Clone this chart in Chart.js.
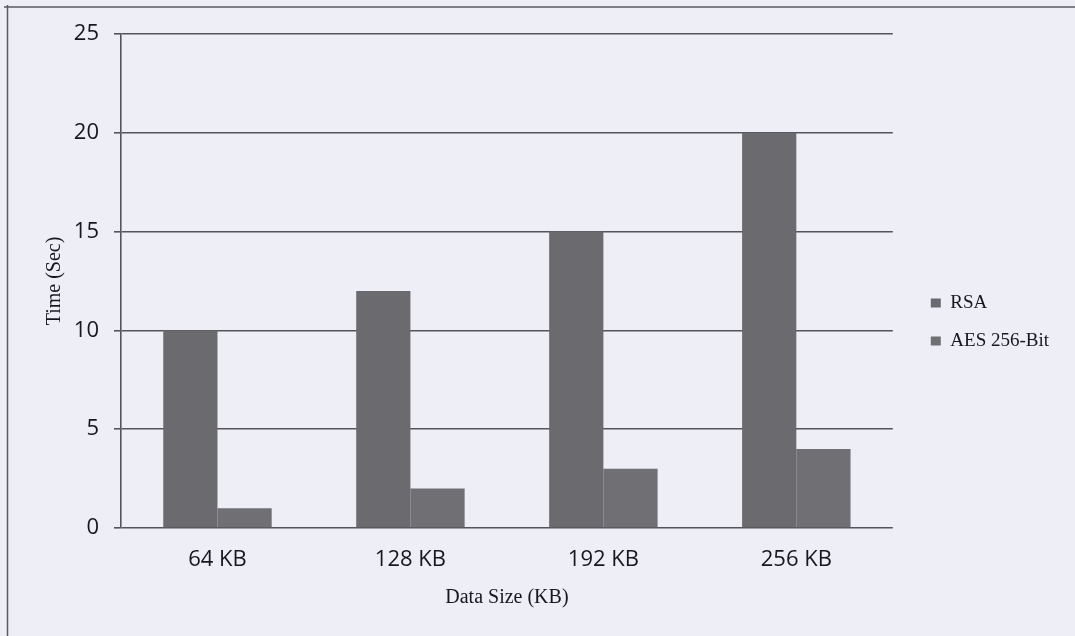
<!DOCTYPE html>
<html>
<head>
<meta charset="utf-8">
<script src="https://cdn.jsdelivr.net/npm/chart.js@4/dist/chart.umd.min.js"></script>
<style>
  html, body { margin: 0; padding: 0; background: #edeef6; }
  #wrap { width: 1075px; height: 636px; position: relative; }
</style>
</head>
<body>
<div id="wrap"><canvas id="chart" width="1075" height="636"></canvas></div>
<script>
// Encryption time per data size
const categories = ['64 KB', '128 KB', '192 KB', '256 KB'];
const rsaTimes = [10, 12, 15, 20];
const aesTimes = [1, 2, 3, 4];
const seriesNames = ['RSA', 'AES 256-Bit'];
const yTickValues = [0, 5, 10, 15, 20, 25];

const PAGE_BG = '#edeef6';
const INK = '#18181c';
const GRID = '#54545a';

// Page background and the frame lines on the left and top edges
const framePlugin = {
  id: 'frame',
  beforeDraw(chart) {
    const ctx = chart.ctx;
    ctx.save();
    ctx.fillStyle = PAGE_BG;
    ctx.fillRect(0, 0, chart.width, chart.height);
    ctx.strokeStyle = '#5a5a60';
    ctx.lineWidth = 1.5;
    ctx.beginPath();
    ctx.moveTo(4, 7);
    ctx.lineTo(chart.width, 7);
    ctx.moveTo(7.5, 5);
    ctx.lineTo(7.5, chart.height);
    ctx.stroke();
    ctx.restore();
  }
};

// Legend sits right of the plot; nudge it into place after layout
const legendNudge = {
  id: 'legendNudge',
  afterLayout(chart) {
    const lg = chart.legend;
    if (!lg) return;
    const dx = 19, dy = -13;
    lg.left += dx; lg.right += dx;
    lg.top += dy; lg.bottom += dy;
  }
};

const ctx = document.getElementById('chart').getContext('2d');
new Chart(ctx, {
  type: 'bar',
  data: {
    labels: categories,
    datasets: [
      { label: seriesNames[0], data: rsaTimes, backgroundColor: '#6a6a6f' },
      { label: seriesNames[1], data: aesTimes, backgroundColor: '#6f6f74' }
    ]
  },
  options: {
    responsive: false,
    devicePixelRatio: 1,
    animation: false,
    layout: { padding: { top: 34, right: 35, bottom: 0, left: 0 } },
    datasets: {
      bar: { categoryPercentage: 0.562, barPercentage: 1.0 }
    },
    plugins: {
      tooltip: { enabled: false },
      legend: {
        position: 'right',
        align: 'center',
        labels: {
          boxWidth: 10,
          boxHeight: 9,
          padding: 19,
          color: INK,
          font: { family: '"Liberation Serif", "Times New Roman", serif', size: 19 }
        }
      }
    },
    scales: {
      x: {
        grid: { display: false, drawTicks: false },
        border: { display: false },
        ticks: {
          color: INK,
          padding: 19,
          font: { family: '"Open Sans", sans-serif', size: 22, weight: '500' }
        },
        title: {
          display: true,
          text: 'Data Size (KB)',
          color: INK,
          padding: { top: 0, bottom: 26 },
          font: { family: '"Liberation Serif", "Times New Roman", serif', size: 20 }
        },
        afterFit(scale) { scale.height = 108; }
      },
      y: {
        min: 0,
        max: 25,
        afterBuildTicks(scale) { scale.ticks = yTickValues.map(v => ({ value: v })); },
        grid: { color: GRID, lineWidth: 1.6, tickLength: 7, drawTicks: true },
        border: { display: true, color: GRID, width: 1.6 },
        ticks: {
          color: INK,
          padding: 15,
          font: { family: '"Open Sans", sans-serif', size: 22, weight: '500' }
        },
        title: {
          display: true,
          text: 'Time (Sec)',
          color: INK,
          padding: { top: 43, bottom: 0 },
          font: { family: '"Liberation Serif", "Times New Roman", serif', size: 20 }
        },
        afterFit(scale) { scale.width = 121; }
      }
    }
  },
  plugins: [framePlugin, legendNudge]
});
</script>
</body>
</html>
